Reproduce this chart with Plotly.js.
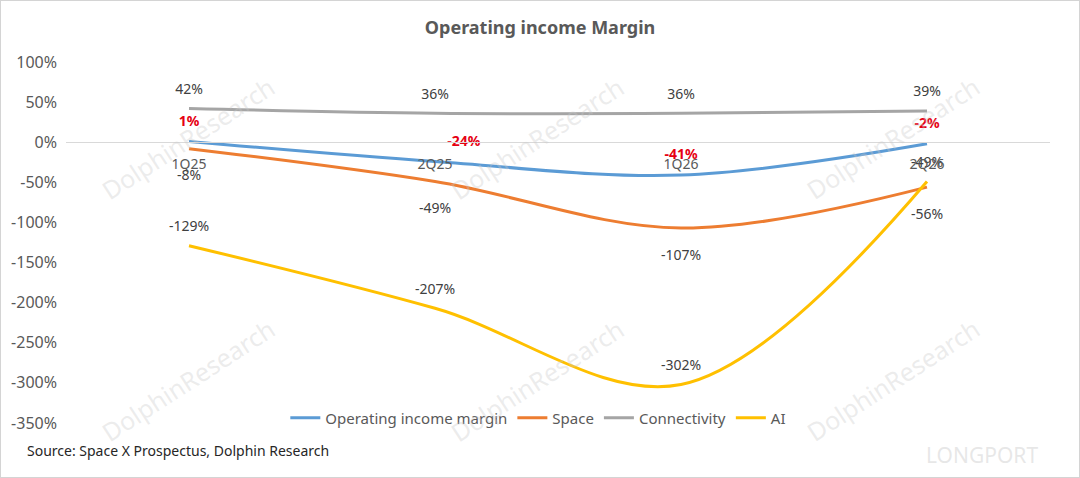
<!DOCTYPE html>
<html>
<head>
<meta charset="utf-8">
<script src="https://cdn.plot.ly/plotly-3.0.1.min.js"></script>
<style>
  html, body { margin: 0; padding: 0; background: #fff; }
  #chart { width: 1080px; height: 478px; box-sizing: border-box; border: 1px solid #d4d4d4; }
</style>
</head>
<body>
<div id="chart"></div>
<script>
let quarters = ['1Q25', '2Q25', '1Q26', '2Q26'];

let opMargin = [1, -24, -41, -2];
let space = [-8, -49, -107, -56];
let connectivity = [42, 36, 36, 39];
let ai = [-129, -207, -302, -49];

let yTicks = [100, 50, 0, -50, -100, -150, -200, -250, -300, -350];

let font = 'Noto Sans, Open Sans, sans-serif';

function pct(arr) {
    return arr.map(function (v) { return v + '%'; });
}

// invisible markers only push the data labels away from the line
function series(name, values, color, textPos, textFont, gap) {
    return {
        x: quarters,
        y: values,
        name: name,
        type: 'scatter',
        mode: 'lines+markers+text',
        line: { color: color, width: 3, shape: 'spline', smoothing: 1 },
        marker: { size: gap, color: 'rgba(0,0,0,0)' },
        text: pct(values),
        textposition: textPos,
        textfont: textFont,
        cliponaxis: false,
        hoverinfo: 'x+y+name'
    };
}

let labelFont = { family: font, size: 14, color: '#404040' };

var data = [
    series('Operating income margin', opMargin, '#5B9BD5',
        ['top center', 'top right', 'top center', 'top center'],
        { family: font, size: 14, color: '#E60012', weight: 'bold' }, 18),
    series('Space', space, '#ED7D31', 'bottom center', labelFont, 32),
    series('Connectivity', connectivity, '#A5A5A5', 'top center', labelFont, 16),
    series('AI', ai, '#FFC000', 'top center', labelFont, 16)
];

// watermarks
let wmX = [0.124, 0.479, 0.84];
let wmY = [0.79, 0.12];
let annotations = [];
wmX.forEach(function (x) {
    wmY.forEach(function (y) {
        annotations.push({
            xref: 'paper', yref: 'paper', x: x, y: y,
            xanchor: 'center', yanchor: 'middle',
            text: 'DolphinResearch', showarrow: false, textangle: -33,
            font: { family: font, size: 25, color: 'rgba(200,200,200,0.35)' }
        });
    });
});

annotations.push({
    xref: 'paper', yref: 'paper', x: -0.042, y: -0.075,
    xanchor: 'left', yanchor: 'middle', showarrow: false,
    text: 'Source: Space X Prospectus, Dolphin Research',
    font: { family: font, size: 14, color: '#262626' }
});

annotations.push({
    xref: 'paper', yref: 'paper', x: 0.99, y: -0.09,
    xanchor: 'right', yanchor: 'middle', showarrow: false,
    text: 'LONGPORT',
    font: { family: font, size: 21, color: 'rgba(215,215,215,0.6)' }
});

var layout = {
    width: 1078,
    height: 476,
    paper_bgcolor: '#fff',
    plot_bgcolor: 'rgba(0,0,0,0)',
    font: { family: font, size: 14, color: '#595959' },
    margin: { l: 65, r: 29, t: 61, b: 54 },
    title: {
        text: '<b>Operating income Margin</b>',
        x: 0.5, xanchor: 'center',
        y: 0.943, yanchor: 'middle',
        font: { family: font, size: 18, color: '#595959' }
    },
    xaxis: {
        type: 'category',
        categoryorder: 'array',
        categoryarray: quarters,
        range: [-0.5, 3.5],
        anchor: 'free',
        position: 350 / 450,
        showline: true,
        linecolor: '#d9d9d9',
        linewidth: 1,
        showgrid: false,
        zeroline: false,
        ticks: '',
        ticklabelstandoff: 9,
        tickfont: { family: font, size: 14, color: '#595959' },
        fixedrange: true
    },
    yaxis: {
        range: [-350, 100],
        tickvals: yTicks,
        ticktext: pct(yTicks),
        showgrid: false,
        zeroline: false,
        showline: false,
        ticks: '',
        ticklabelstandoff: 8,
        tickfont: { family: font, size: 16, color: '#595959' },
        fixedrange: true
    },
    legend: {
        orientation: 'h',
        x: 0.48, xanchor: 'center',
        y: 0.014, yanchor: 'middle',
        bgcolor: 'rgba(0,0,0,0)',
        font: { family: font, size: 15, color: '#595959' },
        itemwidth: 30
    },
    annotations: annotations,
    showlegend: true
};

Plotly.newPlot('chart', data, layout, { displayModeBar: false, staticPlot: true });
</script>
</body>
</html>
